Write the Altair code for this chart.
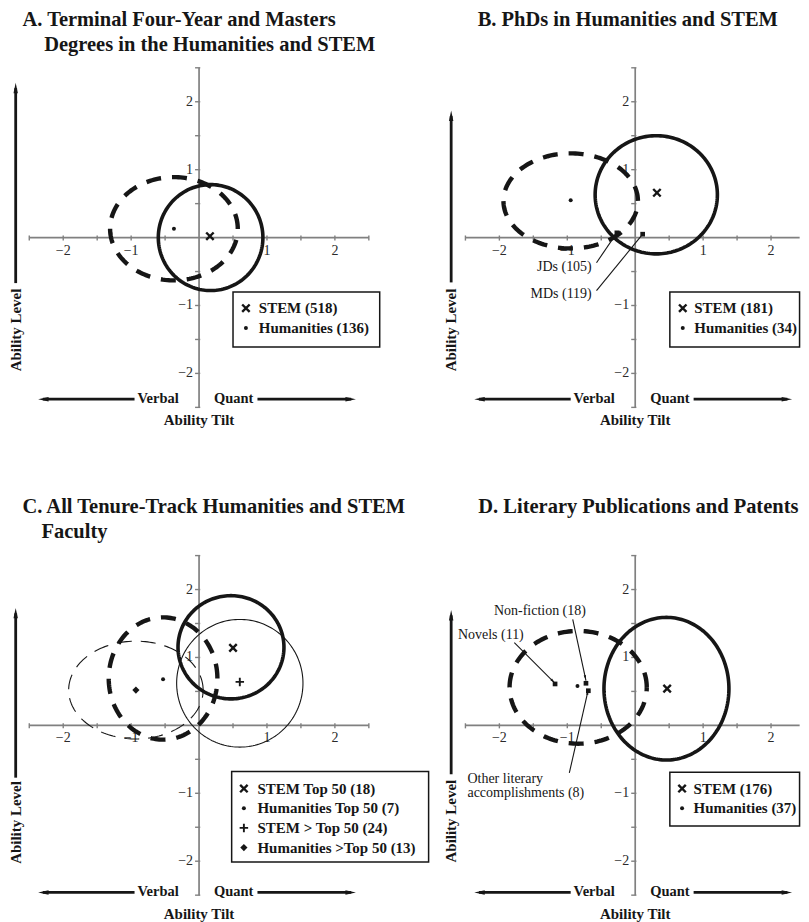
import math
import altair as alt
import numpy as np
import pandas as pd

FONT = "Liberation Serif"
INK = "#161616"
GREY = "#808080"
PPU = 68.0  # pixels per data unit (both axes)

# ---------------- titles ----------------
TITLE_PANEL = ["A", "A", "B", "C", "C", "D"]
TITLE_TEXT = ["A. Terminal Four-Year and Masters", "Degrees in the Humanities and STEM",
              "B. PhDs in Humanities and STEM",
              "C. All Tenure-Track Humanities and STEM", "Faculty",
              "D. Literary Publications and Patents"]
TITLE_X = [-2.60, -2.28, -2.32, -2.60, -2.32, -2.31]
TITLE_Y = [3.20, 2.835, 3.20, 3.22, 2.853, 3.22]

# ---------------- axis ticks ----------------
TICK_VALUES = [-2, -1, 1, 2]
TICK_LABELS = ["\u22122", "\u22121", "1", "2"]
MINOR_TICKS = [-2.5, -2, -1.5, -1, -0.5, 0.5, 1, 1.5, 2, 2.5]
AXIS_HALF = 2.5

# ---------------- ellipses (centre, radii, style) ----------------
ELL_PANEL = ["A", "A", "B", "B", "C", "C", "C", "C", "D", "D"]
ELL_CX = [0.17, -0.37, 0.31, -0.95, 0.47, -0.53, 0.60, -0.93, 0.46, -0.84]
ELL_CY = [0.00, 0.13, 0.63, 0.54, 1.15, 0.69, 0.62, 0.52, 0.54, 0.56]
ELL_RX = [0.77, 0.94, 0.90, 0.99, 0.78, 0.80, 0.93, 0.99, 0.92, 1.01]
ELL_RY = [0.78, 0.76, 0.87, 0.70, 0.76, 0.90, 0.94, 0.72, 1.05, 0.83]
ELL_STYLE = ["solid", "dash", "solid", "dash", "solid", "dash", "thin", "thindash", "solid", "dash"]

# ---------------- group means / markers ----------------
MK_PANEL = ["A", "A", "B", "B", "B", "B", "C", "C", "C", "C", "D", "D", "D", "D", "D"]
MK_X = [0.16, -0.37, 0.32, -0.95, -0.27, 0.11, 0.50, -0.53, 0.60, -0.93, 0.47, -0.85, -1.18, -0.725, -0.69]
MK_Y = [0.02, 0.13, 0.66, 0.55, 0.07, 0.05, 1.14, 0.68, 0.64, 0.52, 0.54, 0.58, 0.61, 0.62, 0.51]
MK_SYMBOL = ["x", "dot", "x", "dot", "square", "square", "x", "dot", "plus", "diamond",
             "x", "dot", "square", "square", "square"]

# ---------------- legends ----------------
LEG_PANEL = ["A", "A", "B", "B", "C", "C", "C", "C", "D", "D"]
LEG_LABEL = ["STEM (518)", "Humanities (136)", "STEM (181)", "Humanities (34)",
             "STEM Top 50 (18)", "Humanities Top 50 (7)", "STEM > Top 50 (24)", "Humanities >Top 50 (13)",
             "STEM (176)", "Humanities (37)"]
LEG_SYMBOL = ["x", "dot", "x", "dot", "x", "dot", "plus", "diamond", "x", "dot"]
LEG_ROW = [0, 1, 0, 1, 0, 1, 2, 3, 0, 1]

# ---------------- annotations ----------------
ANN_PANEL = ["B", "B", "D", "D", "D", "D"]
ANN_TEXT = ["JDs (105)", "MDs (119)", "Non-fiction (18)", "Novels (11)", "Other literary", "accomplishments (8)"]
ANN_X = [-0.64, -0.64, -2.08, -2.61, -2.47, -2.47]
ANN_Y = [-0.43, -0.83, 1.68, 1.33, -0.785, -0.995]
ANN_ALIGN = ["right", "right", "left", "left", "left", "left"]

LEAD_PANEL = ["B", "B", "D", "D", "D"]
LEAD_X = [-0.57, -0.57, -0.92, -1.78, -0.97]
LEAD_Y = [-0.37, -0.78, 1.56, 1.22, -0.70]
LEAD_X2 = [-0.27, 0.11, -0.725, -1.18, -0.69]
LEAD_Y2 = [0.07, 0.05, 0.66, 0.62, 0.53]
LEAD_HEAD = [False, False, True, True, True]

# ---------------- layout (pixels / data units) ----------------
LEFT_W, RIGHT_W = 421, 372
TOP_H, BOTTOM_H = 452, 462
ORIGIN_X = {"A": 190.3, "B": 206.0, "C": 190.3, "D": 206.0}
ORIGIN_Y = {"A": 229.3, "B": 229.3, "C": 265.7, "D": 265.7}
LEG_BOX = {"A": (0.50, 2.66, -0.80, -1.61), "B": (0.51, 2.42, -0.80, -1.61),
           "C": (0.48, 3.38, -0.68, -2.01), "D": (0.51, 2.42, -0.69, -1.48)}
LEG_FIRST_Y = {"A": -1.04, "B": -1.04, "C": -0.93, "D": -0.93}
LEG_STEP = 0.29
LEG_MARK_X = {"A": 0.69, "B": 0.70, "C": 0.66, "D": 0.69}
LEG_TEXT_X = {"A": 0.88, "B": 0.87, "C": 0.86, "D": 0.86}
LEG_FONT = 15
ARROW_Y = {"A": -2.38, "B": -2.38, "C": -2.46, "D": -2.46}
TILT_Y = {"A": -2.69, "B": -2.69, "C": -2.78, "D": -2.78}
LEVEL_X = {"A": -2.70, "B": -2.71, "C": -2.70, "D": -2.71}
LEVEL_TOP = {"A": 2.28, "B": 1.87, "C": 1.73, "D": 1.70}
LEVEL_BOTTOM = {"A": -0.67, "B": -0.66, "C": -0.77, "D": -0.72}
LEVEL_LABEL_Y = {"A": -1.36, "B": -1.36, "C": -1.43, "D": -1.41}
VERBAL_END, QUANT_START = -0.30, 0.22
VERBAL_LINE = (-0.95, -2.30)
QUANT_LINE = (0.86, 2.24)

ELL_STYLES = {
    "solid": dict(strokeWidth=3.6),
    "dash": dict(strokeWidth=4.4, strokeDash=[15, 11]),
    "thin": dict(strokeWidth=1.1),
    "thindash": dict(strokeWidth=1.1, strokeDash=[15, 9]),
}
STROKED = {"x": ("M-1,-1L1,1M-1,1L1,-1", 56, 2.4), "plus": ("M-1,0H1M0,-1V1", 72, 1.9)}
FILLED = {"dot": ("circle", 16), "diamond": ("diamond", 52), "square": ("square", 22)}
HEAD_PATH = "M0,0L-0.42,2L0.42,2Z"

# ---------------- derived tables ----------------
t = np.linspace(0, 2 * np.pi, 181)
ell_rows = []
for k in range(len(ELL_PANEL)):
    for i, a in enumerate(t):
        ell_rows.append(dict(panel=ELL_PANEL[k], eid=k, style=ELL_STYLE[k], i=i,
                             x=ELL_CX[k] + ELL_RX[k] * math.cos(a),
                             y=ELL_CY[k] + ELL_RY[k] * math.sin(a)))
ell_df = pd.DataFrame(ell_rows)


def sym_rows(xs, ys, syms):
    stroked, filled = [], []
    for x, y, s in zip(xs, ys, syms):
        if s in STROKED:
            path, size, sw = STROKED[s]
            stroked.append(dict(x=x, y=y, sym=path, sz=size, sw=sw))
        else:
            shape, size = FILLED[s]
            filled.append(dict(x=x, y=y, sym=shape, sz=size))
    return stroked, filled


def head_angle(x1, y1, x2, y2):
    return math.degrees(math.atan2(x2 - x1, y2 - y1)) % 360


def make_panel(p, W, H):
    ox, oy = ORIGIN_X[p], ORIGIN_Y[p]
    xmax = (W - ox) / PPU
    sx = alt.Scale(domain=[-ox / PPU, xmax], nice=False, zero=False)
    sy = alt.Scale(domain=[-(H - oy) / PPU, oy / PPU], nice=False, zero=False)
    x_right = min(AXIS_HALF, xmax - 0.02)

    def X(f="x"):
        return alt.X(f"{f}:Q", scale=sx, axis=None)

    def Y(f="y"):
        return alt.Y(f"{f}:Q", scale=sy, axis=None)

    layers = []

    # axis lines, ticks, labels
    axes = pd.DataFrame([dict(x=-AXIS_HALF, y=0, x2=x_right, y2=0),
                         dict(x=0, y=-AXIS_HALF, x2=0, y2=AXIS_HALF)])
    layers.append(alt.Chart(axes).mark_rule(color=GREY, strokeWidth=1.7).encode(
        x=X(), y=Y(), x2="x2:Q", y2="y2:Q"))
    xticks = [v for v in MINOR_TICKS if v <= x_right]
    xt = pd.DataFrame(dict(x=xticks, y=[0] * len(xticks)))
    layers.append(alt.Chart(xt).mark_point(shape="M0,-0.7V1", size=36, filled=False, strokeWidth=1.4,
                                           color=GREY, opacity=1).encode(x=X(), y=Y()))
    yt = pd.DataFrame(dict(x=[0] * len(MINOR_TICKS), y=MINOR_TICKS))
    layers.append(alt.Chart(yt).mark_point(shape="M-1,0H0.3", size=64, filled=False, strokeWidth=1.4,
                                           color=GREY, opacity=1).encode(x=X(), y=Y()))
    xl = pd.DataFrame(dict(x=TICK_VALUES, y=[0] * 4, t=TICK_LABELS))
    layers.append(alt.Chart(xl).mark_text(font=FONT, fontSize=14, color="#2a2a2a", dy=13, baseline="middle",
                                          align="center").encode(x=X(), y=Y(), text="t:N"))
    yl = pd.DataFrame(dict(x=[0] * 4, y=TICK_VALUES, t=TICK_LABELS))
    layers.append(alt.Chart(yl).mark_text(font=FONT, fontSize=14, color="#2a2a2a", dx=-6, baseline="middle",
                                          align="right").encode(x=X(), y=Y(), text="t:N"))

    # ellipses
    e = ell_df[ell_df.panel == p]
    for style, props in ELL_STYLES.items():
        d = e[e["style"] == style]
        if len(d) == 0:
            continue
        layers.append(alt.Chart(d).mark_line(color=INK, **props).encode(
            x=X(), y=Y(), order="i:Q", detail="eid:N"))

    # markers (plot + legend)
    idx = [i for i, q in enumerate(MK_PANEL) if q == p]
    lidx = [i for i, q in enumerate(LEG_PANEL) if q == p]
    xs = [MK_X[i] for i in idx] + [LEG_MARK_X[p]] * len(lidx)
    ys = [MK_Y[i] for i in idx] + [LEG_FIRST_Y[p] - LEG_ROW[i] * LEG_STEP for i in lidx]
    ss = [MK_SYMBOL[i] for i in idx] + [LEG_SYMBOL[i] for i in lidx]
    stroked, filled = sym_rows(xs, ys, ss)
    if stroked:
        layers.append(alt.Chart(pd.DataFrame(stroked)).mark_point(filled=False, color=INK, opacity=1).encode(
            x=X(), y=Y(), shape=alt.Shape("sym:N", scale=None), size=alt.Size("sz:Q", scale=None),
            strokeWidth=alt.StrokeWidth("sw:Q", scale=None)))
    if filled:
        layers.append(alt.Chart(pd.DataFrame(filled)).mark_point(filled=True, color=INK, opacity=1,
                                                                 strokeWidth=0).encode(
            x=X(), y=Y(), shape=alt.Shape("sym:N", scale=None), size=alt.Size("sz:Q", scale=None)))

    # legend box + text
    bx = LEG_BOX[p]
    box = pd.DataFrame([dict(x=bx[0], x2=bx[1], y=bx[2], y2=bx[3])])
    layers.append(alt.Chart(box).mark_rect(fillOpacity=0, stroke=INK, strokeWidth=1.5).encode(
        x=X(), x2="x2:Q", y=Y(), y2="y2:Q"))
    lt = pd.DataFrame(dict(x=[LEG_TEXT_X[p]] * len(lidx),
                           y=[LEG_FIRST_Y[p] - LEG_ROW[i] * LEG_STEP for i in lidx],
                           t=[LEG_LABEL[i] for i in lidx]))
    layers.append(alt.Chart(lt).mark_text(font=FONT, fontSize=LEG_FONT, fontWeight="bold", color=INK,
                                          align="left", baseline="middle").encode(x=X(), y=Y(), text="t:N"))

    # annotations
    aidx = [i for i, q in enumerate(ANN_PANEL) if q == p]
    for al in ["left", "right"]:
        sel = [i for i in aidx if ANN_ALIGN[i] == al]
        if sel:
            ad = pd.DataFrame(dict(x=[ANN_X[i] for i in sel], y=[ANN_Y[i] for i in sel],
                                   t=[ANN_TEXT[i] for i in sel]))
            layers.append(alt.Chart(ad).mark_text(font=FONT, fontSize=14, color=INK, align=al,
                                                  baseline="middle").encode(x=X(), y=Y(), text="t:N"))
    didx = [i for i, q in enumerate(LEAD_PANEL) if q == p]
    if didx:
        ld = pd.DataFrame(dict(x=[LEAD_X[i] for i in didx], y=[LEAD_Y[i] for i in didx],
                               x2=[LEAD_X2[i] for i in didx], y2=[LEAD_Y2[i] for i in didx]))
        layers.append(alt.Chart(ld).mark_rule(color=INK, strokeWidth=1.1).encode(
            x=X(), y=Y(), x2="x2:Q", y2="y2:Q"))
        hd = pd.DataFrame([dict(x=LEAD_X2[i], y=LEAD_Y2[i],
                                ang=head_angle(LEAD_X[i], LEAD_Y[i], LEAD_X2[i], LEAD_Y2[i]))
                           for i in didx if LEAD_HEAD[i]])
        if len(hd):
            layers.append(alt.Chart(hd).mark_point(shape=HEAD_PATH, size=30, filled=True, color=INK,
                                                   opacity=1, strokeWidth=0).encode(
                x=X(), y=Y(), angle=alt.Angle("ang:Q", scale=None)))

    # axis-direction arrows and labels
    ay, lx = ARROW_Y[p], LEVEL_X[p]
    ar = pd.DataFrame([dict(x=VERBAL_LINE[0], y=ay, x2=VERBAL_LINE[1], y2=ay),
                       dict(x=QUANT_LINE[0], y=ay, x2=QUANT_LINE[1], y2=ay),
                       dict(x=lx, y=LEVEL_BOTTOM[p], x2=lx, y2=LEVEL_TOP[p] - 0.08)])
    layers.append(alt.Chart(ar).mark_rule(color=INK, strokeWidth=2.8).encode(
        x=X(), y=Y(), x2="x2:Q", y2="y2:Q"))
    ah = pd.DataFrame([dict(x=VERBAL_LINE[1] - 0.07, y=ay, ang=270),
                       dict(x=QUANT_LINE[1] + 0.07, y=ay, ang=90),
                       dict(x=lx, y=LEVEL_TOP[p], ang=0)])
    layers.append(alt.Chart(ah).mark_point(shape=HEAD_PATH, size=110, filled=True, color=INK,
                                           opacity=1, strokeWidth=0).encode(
        x=X(), y=Y(), angle=alt.Angle("ang:Q", scale=None)))
    vq = pd.DataFrame([dict(x=VERBAL_END, y=ay, t="Verbal")])
    layers.append(alt.Chart(vq).mark_text(font=FONT, fontSize=14.5, fontWeight="bold", color=INK,
                                          align="right", baseline="middle").encode(x=X(), y=Y(), text="t:N"))
    qq = pd.DataFrame([dict(x=QUANT_START, y=ay, t="Quant")])
    layers.append(alt.Chart(qq).mark_text(font=FONT, fontSize=14.5, fontWeight="bold", color=INK,
                                          align="left", baseline="middle").encode(x=X(), y=Y(), text="t:N"))
    tt = pd.DataFrame([dict(x=0, y=TILT_Y[p], t="Ability Tilt")])
    layers.append(alt.Chart(tt).mark_text(font=FONT, fontSize=15, fontWeight="bold", color=INK,
                                          align="center", baseline="middle").encode(x=X(), y=Y(), text="t:N"))
    lv = pd.DataFrame([dict(x=lx, y=LEVEL_LABEL_Y[p], t="Ability Level")])
    layers.append(alt.Chart(lv).mark_text(font=FONT, fontSize=15, fontWeight="bold", color=INK, angle=270,
                                          align="center", baseline="middle").encode(x=X(), y=Y(), text="t:N"))

    # panel title
    tix = [i for i, q in enumerate(TITLE_PANEL) if q == p]
    td = pd.DataFrame(dict(x=[TITLE_X[i] for i in tix], y=[TITLE_Y[i] for i in tix],
                           t=[TITLE_TEXT[i] for i in tix]))
    layers.append(alt.Chart(td).mark_text(font=FONT, fontSize=20.5, fontWeight="bold", color=INK,
                                          align="left", baseline="middle").encode(x=X(), y=Y(), text="t:N"))

    return alt.layer(*layers).properties(width=W, height=H)


pA = make_panel("A", LEFT_W, TOP_H)
pB = make_panel("B", RIGHT_W, TOP_H)
pC = make_panel("C", LEFT_W, BOTTOM_H)
pD = make_panel("D", RIGHT_W, BOTTOM_H)

chart = (alt.concat(pA, pB, pC, pD, columns=2, spacing=0, bounds="flush")
         .properties(padding=0, background="white")
         .configure_view(strokeOpacity=0))

chart.save("out.html", embed_options={"renderer": "svg", "actions": False})
